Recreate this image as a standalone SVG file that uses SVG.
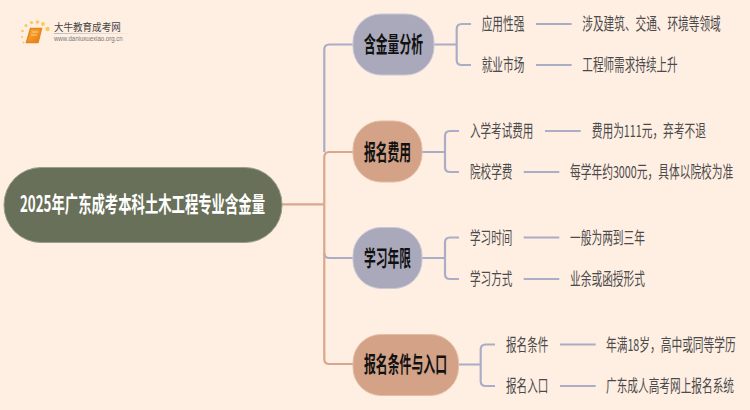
<svg xmlns="http://www.w3.org/2000/svg" width="750" height="410" viewBox="0 0 750 410">
<defs>
<style>
text{font-family:"Noto Sans CJK SC","Liberation Sans",sans-serif}
.c{fill:none;stroke-width:2.2}
.b{stroke:#a9aec6}.o{stroke:#d8a78c}
.m{font-size:21.500px;font-weight:700;fill:#111}
.t{font-size:16.500px;fill:#4a4a4a}
</style>
<linearGradient id="bk" x1="0" y1="0" x2="1" y2="1"><stop offset="0" stop-color="#fbb03b"/><stop offset="1" stop-color="#e8780f"/></linearGradient>
<linearGradient id="ul"><stop offset="0" stop-color="#bbb"/><stop offset="1" stop-color="#bbb" stop-opacity="0"/></linearGradient>
</defs>
<rect width="750" height="410" fill="#ffeee2"/>
<g id="logo">
<path d="M30.500 28.500H41.500L38 42.500H26.500Z" fill="url(#bk)" stroke="#e5851a" stroke-width="1.500"/>
<path d="M32 32H38M31 35H37" stroke="#fde0a0" stroke-width=".8"/>
<g fill="#f9c95a"><circle cx="47.500" cy="29" r="2.200"/><circle cx="43" cy="24" r="1.900"/><circle cx="37.500" cy="22" r="1.800"/><circle cx="31.500" cy="22.500" r="1.600"/><circle cx="26" cy="25.500" r="1.500"/><circle cx="22.500" cy="31" r="1.300"/><circle cx="22" cy="37" r="1.100"/><circle cx="23.500" cy="42.500" r="1"/></g>
<rect x="54" y="33" width="80" height="1" fill="url(#ul)"/>
<text x="54" y="31" textLength="66.700" lengthAdjust="spacingAndGlyphs" style="font-size:10.500px;fill:#444">大牛教育成考网</text>
<text x="54" y="41" textLength="68.700" lengthAdjust="spacingAndGlyphs" style="font-family:'Liberation Sans',sans-serif;font-size:6.500px;fill:#777">www.daniuxuexiao.org.cn</text>
</g>
<g id="connectors">
<path class="c o" d="M282 204.300H324.300"/>
<path class="c b" d="M324.300 152V49.500Q324.300 44.500 329.300 44.500H353"/>
<path class="c o" d="M324.300 204.300V157Q324.300 152 329.300 152H353"/>
<path class="c b" d="M324.300 253Q324.300 258 329.300 258H353"/>
<path class="c o" d="M324.300 204.300V359Q324.300 364 329.300 364H353"/>
<path class="c b" d="M434 44.500H456.700M471 24H461.700Q456.700 24 456.700 29V60Q456.700 65 461.700 65H471"/>
<path class="c b" d="M422 152H445M459 131H450Q445 131 445 136V167Q445 172 450 172H459"/>
<path class="c b" d="M422 258H445M459 237.500H450Q445 237.500 445 242.500V274Q445 279 450 279H459"/>
<path class="c b" d="M458.500 364.500H480.700M495 344.500H485.700Q480.700 344.500 480.700 349.500V381Q480.700 386 485.700 386H495"/>
<path class="c b" d="M536 24H571.700M536 65H571.700M545 131H580.700M523.700 172H559.300M523.700 237.500H559.300M523.700 279H559.300M560 344.500H595.700M560 386H595.700"/>
</g>
<g id="root"><rect x="4" y="167.500" width="278" height="75" rx="37" fill="#697059" stroke="#9aa088"/><text x="20" y="212" textLength="245" lengthAdjust="spacingAndGlyphs" style="font-size:22px;font-weight:700;fill:#fff">2025年广东成考本科土木工程专业含金量</text></g>
<g id="n1"><rect x="353" y="14" width="81" height="61" rx="28" fill="#a9a9bb" stroke="#c9c9d6"/><text x="364" y="52" textLength="59" lengthAdjust="spacingAndGlyphs" class="m">含金量分析</text></g>
<g id="n2"><rect x="353" y="121" width="69" height="61" rx="28" fill="#d3a287" stroke="#e3bda6"/><text x="364" y="159.500" textLength="47" lengthAdjust="spacingAndGlyphs" class="m">报名费用</text></g>
<g id="n3"><rect x="353" y="227.500" width="69" height="61" rx="28" fill="#a9a9bb" stroke="#c9c9d6"/><text x="364" y="265.500" textLength="47" lengthAdjust="spacingAndGlyphs" class="m">学习年限</text></g>
<g id="n4"><rect x="353" y="334.500" width="105.500" height="61" rx="28" fill="#d3a287" stroke="#e3bda6"/><text x="364" y="372" textLength="83" lengthAdjust="spacingAndGlyphs" class="m">报名条件与入口</text></g>
<g id="l1"><text x="481.700" y="30" textLength="42.600" lengthAdjust="spacingAndGlyphs" class="t">应用性强</text></g>
<g id="l2"><text x="481.700" y="71" textLength="42.600" lengthAdjust="spacingAndGlyphs" class="t">就业市场</text></g>
<g id="l3"><text x="470" y="137" textLength="63.300" lengthAdjust="spacingAndGlyphs" class="t">入学考试费用</text></g>
<g id="l4"><text x="470" y="178" textLength="42.300" lengthAdjust="spacingAndGlyphs" class="t">院校学费</text></g>
<g id="l5"><text x="470" y="243.500" textLength="42.300" lengthAdjust="spacingAndGlyphs" class="t">学习时间</text></g>
<g id="l6"><text x="470" y="285" textLength="42.300" lengthAdjust="spacingAndGlyphs" class="t">学习方式</text></g>
<g id="l7"><text x="506" y="350.500" textLength="42.300" lengthAdjust="spacingAndGlyphs" class="t">报名条件</text></g>
<g id="l8"><text x="506" y="392" textLength="42.300" lengthAdjust="spacingAndGlyphs" class="t">报名入口</text></g>
<g id="d1"><text x="582.300" y="30" textLength="138.400" lengthAdjust="spacingAndGlyphs" class="t">涉及建筑、交通、环境等领域</text></g>
<g id="d2"><text x="582.300" y="71" textLength="95.400" lengthAdjust="spacingAndGlyphs" class="t">工程师需求持续上升</text></g>
<g id="d3"><text x="591.700" y="137" textLength="114.300" lengthAdjust="spacingAndGlyphs" class="t">费用为111元，弃考不退</text></g>
<g id="d4"><text x="570" y="178" textLength="163.300" lengthAdjust="spacingAndGlyphs" class="t">每学年约3000元，具体以院校为准</text></g>
<g id="d5"><text x="570" y="243.500" textLength="75" lengthAdjust="spacingAndGlyphs" class="t">一般为两到三年</text></g>
<g id="d6"><text x="570" y="285" textLength="75" lengthAdjust="spacingAndGlyphs" class="t">业余或函授形式</text></g>
<g id="d7"><text x="606" y="350.500" textLength="129.700" lengthAdjust="spacingAndGlyphs" class="t">年满18岁，高中或同等学历</text></g>
<g id="d8"><text x="606" y="392" textLength="128" lengthAdjust="spacingAndGlyphs" class="t">广东成人高考网上报名系统</text></g>
</svg>
